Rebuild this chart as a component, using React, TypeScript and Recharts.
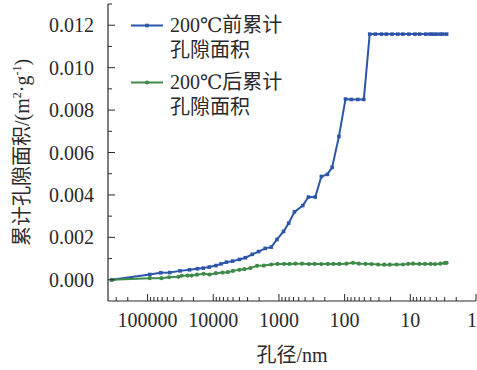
import { LineChart, Line, XAxis, YAxis, Legend } from 'recharts';

// 200℃ 前 (before heating)
const beforeSize = [
  352000, 92500, 63000, 46000, 32000, 23000, 17400, 14200, 11500, 9100, 7600, 6300, 5070, 4000,
  3240, 2550, 2040, 1620, 1310, 1070, 850, 710, 580, 434, 355, 280, 226, 183, 155, 122, 97, 79,
  63, 51, 41.5, 34, 27.5, 23.2, 19, 15.5, 13, 10.5, 8.5, 7.2, 5.8, 5, 4.5, 4, 3.5, 3.2, 2.8,
];
const beforeArea = [
  0, 0.00025, 0.00033, 0.00034, 0.00042, 0.00047, 0.00052, 0.00055, 0.0006, 0.00067, 0.00075,
  0.00083, 0.00088, 0.00096, 0.00104, 0.0012, 0.00133, 0.00148, 0.00154, 0.0019, 0.00228, 0.00267,
  0.0032, 0.0035, 0.0039, 0.0039, 0.00487, 0.00497, 0.0053, 0.00676, 0.00852, 0.0085, 0.0085,
  0.0085, 0.01158, 0.01158, 0.01158, 0.01158, 0.01158, 0.01158, 0.01158, 0.01158, 0.01158,
  0.01158, 0.01158, 0.01158, 0.01158, 0.01158, 0.01158, 0.01158, 0.01158,
];

// 200℃ 后 (after heating)
const afterSize = [
  352000, 92500, 61500, 47000, 34000, 30300, 24500, 21400, 17700, 14000, 11400, 9100, 7200, 6000,
  5000, 4000, 3360, 2720, 2150, 1700, 1310, 1050, 830, 690, 560, 445, 350, 287, 227, 180, 148, 120,
  94, 74.6, 60.5, 48, 39, 31, 25, 20.5, 16.2, 12.9, 10.8, 9.1, 7.3, 6, 4.9, 4.2, 3.5, 3, 2.8,
];
const afterArea = [
  0, 0.000075, 0.000075, 0.00012, 0.00014, 0.00019, 0.0002, 0.0002, 0.00024, 0.00028, 0.00025,
  0.00031, 0.00034, 0.00036, 0.00042, 0.00047, 0.0005, 0.00055, 0.00066, 0.00067, 0.00072,
  0.00075, 0.00075, 0.00075, 0.00076, 0.00076, 0.00074, 0.00075, 0.00074, 0.00075, 0.00075,
  0.00075, 0.00076, 0.0008, 0.00076, 0.00075, 0.00074, 0.00072, 0.00071, 0.00071, 0.00072,
  0.00072, 0.00075, 0.00076, 0.00075, 0.00075, 0.00075, 0.00074, 0.00076, 0.00079, 0.0008,
];

const xMajorTicks = [100000, 10000, 1000, 100, 10, 1];
const xTicks = [
  300000, 200000,
  100000, 90000, 80000, 70000, 60000, 50000, 40000, 30000, 20000,
  10000, 9000, 8000, 7000, 6000, 5000, 4000, 3000, 2000,
  1000, 900, 800, 700, 600, 500, 400, 300, 200,
  100, 90, 80, 70, 60, 50, 40, 30, 20,
  10, 9, 8, 7, 6, 5, 4, 3, 2,
  1,
];
const yMajorTicks = [0, 0.002, 0.004, 0.006, 0.008, 0.01, 0.012];
const yTicks = [0, 0.001, 0.002, 0.003, 0.004, 0.005, 0.006, 0.007, 0.008, 0.009, 0.01, 0.011, 0.012, 0.013];

const seriesNames = ['200℃前累计\n孔隙面积', '200℃后累计\n孔隙面积'];

const BLUE = '#2d56a9';
const GREEN = '#3f8b4a';
const INK = '#2a2a2a';
const FONT = '"Liberation Serif", "DejaVu Serif", "Noto Sans CJK SC", serif';

const beforeData = beforeSize.map((s, i) => ({ size: s, area: beforeArea[i] }));
const afterData = afterSize.map((s, i) => ({ size: s, area: afterArea[i] }));

const textStyle = { fontFamily: FONT, fontSize: 20, fill: INK };

const XTick = ({ x, y, payload }: any) => {
  const major = xMajorTicks.includes(payload.value);
  // the last label sits on the right edge: keep it inside the picture
  const last = payload.value === 1;
  return (
    <g>
      <line x1={x} x2={x} y1={y} y2={y - (major ? 7 : 4)} stroke={INK} strokeWidth={1} />
      {major && (
        <text x={last ? x + 1 : x} y={y + 26} textAnchor={last ? 'end' : 'middle'} style={textStyle}>
          {payload.value}
        </text>
      )}
    </g>
  );
};

const YTick = ({ x, y, payload }: any) => {
  const major = yMajorTicks.includes(payload.value);
  return (
    <g>
      <line x1={x} x2={x + (major ? 7 : 4)} y1={y} y2={y} stroke={INK} strokeWidth={1} />
      {major && (
        <text x={x - 14} y={y} dy={7} textAnchor="end" style={textStyle}>
          {payload.value.toFixed(3)}
        </text>
      )}
    </g>
  );
};

const YLabel = ({ viewBox }: any) => {
  const cx = viewBox.x + 22;
  const cy = viewBox.y + viewBox.height / 2;
  return (
    <text x={cx} y={cy} dy={7} transform={`rotate(-90 ${cx} ${cy})`} textAnchor="middle" style={textStyle}>
      累计孔隙面积/(m
      <tspan fontSize={12} dy={-8}>2</tspan>
      <tspan dy={8}>·g</tspan>
      <tspan fontSize={12} dy={-8}>-1</tspan>
      <tspan dy={8}>)</tspan>
    </text>
  );
};

const XLabel = ({ viewBox }: any) => (
  <text x={viewBox.x + viewBox.width / 2} y={viewBox.y + 61} textAnchor="middle" style={textStyle}>
    孔径/nm
  </text>
);

const SquareDot = (p: any) => (
  <rect key={p.index} x={p.cx - 1.8} y={p.cy - 1.8} width={3.6} height={3.6} fill={BLUE} />
);
const RoundDot = (p: any) => <circle key={p.index} cx={p.cx} cy={p.cy} r={2.1} fill={GREEN} />;

const renderLegend = () => (
  <div style={{ fontFamily: FONT, color: INK }}>
    {seriesNames.map((name, i) => {
      const color = i === 0 ? BLUE : GREEN;
      return (
        <div key={name} style={{ display: 'flex', alignItems: 'flex-start', marginBottom: 7 }}>
          <svg width={32} height={25} style={{ marginRight: 7 }}>
            <line x1={0} x2={32} y1={12.5} y2={12.5} stroke={color} strokeWidth={2} />
            {i === 0 ? (
              <rect x={14.2} y={10.7} width={3.6} height={3.6} fill={color} />
            ) : (
              <circle cx={16} cy={12.5} r={2.1} fill={color} />
            )}
          </svg>
          <div style={{ fontSize: 20, lineHeight: '25px', whiteSpace: 'nowrap' }}>
            {name.split('\n').map((l) => (
              <div key={l}>{l}</div>
            ))}
          </div>
        </div>
      );
    })}
  </div>
);

export default function App() {
  return (
    <div style={{ position: 'absolute', left: 0, top: 0, background: '#fff' }}>
      <LineChart width={477} height={370} margin={{ top: 4, right: 1, bottom: 0, left: 0 }}>
        <XAxis
          dataKey="size"
          type="number"
          scale="log"
          domain={[1, 400000]}
          reversed
          allowDataOverflow
          ticks={xTicks}
          interval={0}
          tick={<XTick />}
          tickLine={false}
          tickSize={0}
          tickMargin={0}
          height={69}
          axisLine={{ stroke: INK, strokeWidth: 1.2 }}
          label={<XLabel />}
        />
        <YAxis
          type="number"
          domain={[-0.001, 0.013]}
          ticks={yTicks}
          interval={0}
          tick={<YTick />}
          tickLine={false}
          tickSize={0}
          tickMargin={0}
          width={108}
          axisLine={{ stroke: INK, strokeWidth: 1.2 }}
          label={<YLabel />}
        />
        <Legend
          content={renderLegend}
          layout="horizontal"
          verticalAlign="middle"
          align="center"
          wrapperStyle={{ left: 131, top: 12.5, width: 'auto' }}
        />
        <Line
          data={beforeData}
          dataKey="area"
          name={seriesNames[0]}
          stroke={BLUE}
          strokeWidth={2}
          dot={SquareDot}
          activeDot={false}
          isAnimationActive={false}
        />
        <Line
          data={afterData}
          dataKey="area"
          name={seriesNames[1]}
          stroke={GREEN}
          strokeWidth={2}
          dot={RoundDot}
          activeDot={false}
          isAnimationActive={false}
        />
      </LineChart>
    </div>
  );
}
